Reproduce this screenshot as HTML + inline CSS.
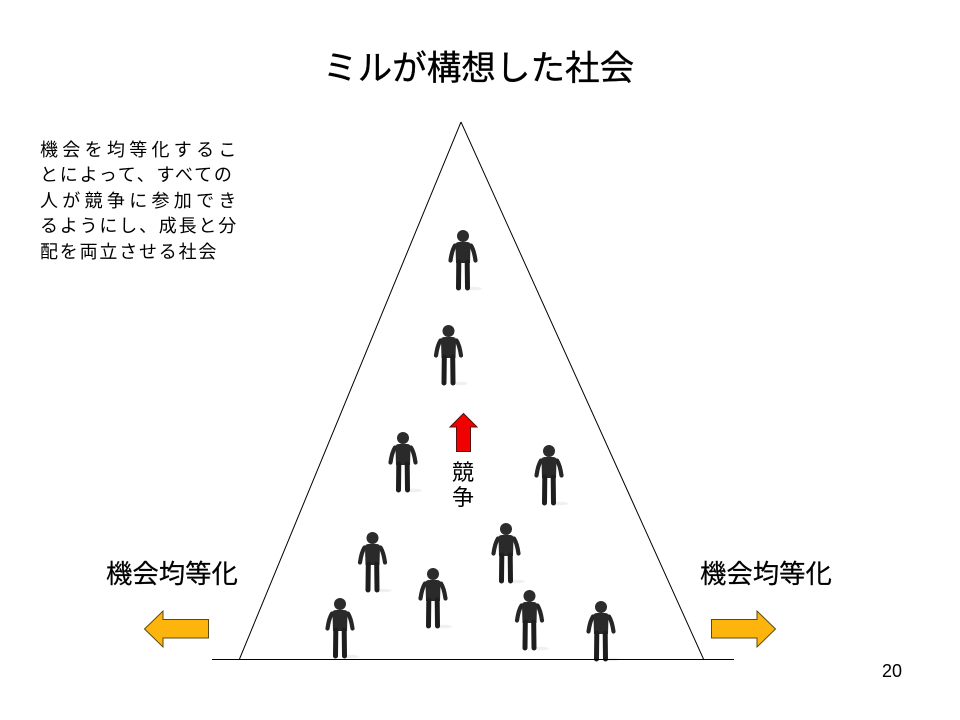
<!DOCTYPE html>
<html><head><meta charset="utf-8"><style>
html,body{margin:0;padding:0;background:#fff}
#s{position:relative;width:960px;height:720px;overflow:hidden;background:#fff;font-family:"Liberation Sans","Noto Sans CJK JP",sans-serif;color:#000}
.t{position:absolute;white-space:nowrap;line-height:1}
svg{position:absolute;left:0;top:0}
</style></head><body><div id="s">
<svg width="960" height="720" viewBox="0 0 960 720">
<defs>
<g id="p">
<ellipse cx="11" cy="58.500" rx="8" ry="1.800" fill="#f0f0f0"/>
<path d="M-8 15.500 Q-11 20 -12.500 30.500 M8 15.500 Q11 20 12.500 30.500" stroke="#262626" stroke-width="4.200" stroke-linecap="round" fill="none"/>
<path d="M-7.500 15 Q-7.500 12 -4 12 L4 12 Q7.500 12 7.500 15 L7 33 L-7 33 Z" fill="#2a2a2a"/>
<path d="M-4.200 32 L-4.500 58 M4.200 32 L4.500 58" stroke="#1e1e1e" stroke-width="5" stroke-linecap="round" fill="none"/>
<circle cx="0" cy="6" r="6" fill="#2c2c2c"/>
</g>
</defs>
<use href="#p" x="463" y="230"/>
<use href="#p" x="448.500" y="325"/>
<use href="#p" x="403" y="432"/>
<use href="#p" x="549" y="445"/>
<use href="#p" x="372.500" y="532"/>
<use href="#p" x="506" y="523"/>
<use href="#p" x="433" y="568"/>
<use href="#p" x="529.500" y="590"/>
<use href="#p" x="340" y="598"/>
<use href="#p" x="601" y="601"/>
<path d="M461 122 L239.500 659 M461 122 L703.500 659" stroke="#000" stroke-width="1" fill="none"/>
<path d="M212 659.500 H734" stroke="#000" stroke-width="1"/>
<path d="M463.500 413.500 L477 427 L470.500 427 L470.500 451.500 L456.500 451.500 L456.500 427 L450 427 Z" fill="#f00000" stroke="#5a1010" stroke-width="1"/>
<path d="M144.500 629 L163 611 L163 619.500 L208.500 619.500 L208.500 638 L163 638 L163 647 Z" fill="#fdb40c" stroke="#5a4a10" stroke-width="1"/>
<path d="M775.500 629 L757 611 L757 619.500 L711.500 619.500 L711.500 638 L757 638 L757 647 Z" fill="#fdb40c" stroke="#5a4a10" stroke-width="1"/>
</svg>
<div class="t" style="left:323px;top:52px;font-size:34.600px;-webkit-text-stroke:.3px #000">ミルが構想した社会</div>
<div class="t" style="left:40px;top:141px;font-size:18px;letter-spacing:4.300px">機会を均等化するこ</div>
<div class="t" style="left:40px;top:166px;font-size:18px;letter-spacing:1.800px">とによって、すべての</div>
<div class="t" style="left:40px;top:192px;font-size:18px;letter-spacing:4.300px">人が競争に参加でき</div>
<div class="t" style="left:40px;top:217px;font-size:18px;letter-spacing:1.800px">るようにし、成長と分</div>
<div class="t" style="left:40px;top:243px;font-size:18px;letter-spacing:1.800px">配を両立させる社会</div>
<div class="t" style="left:452px;top:462px;font-size:22px">競</div>
<div class="t" style="left:452px;top:487px;font-size:22px">争</div>
<div class="t" style="left:106px;top:561px;font-size:26.400px;-webkit-text-stroke:.2px #000">機会均等化</div>
<div class="t" style="left:700px;top:561px;font-size:26.400px;-webkit-text-stroke:.2px #000">機会均等化</div>
<div class="t" style="left:882px;top:662px;font-size:18px">20</div>
</div></body></html>
